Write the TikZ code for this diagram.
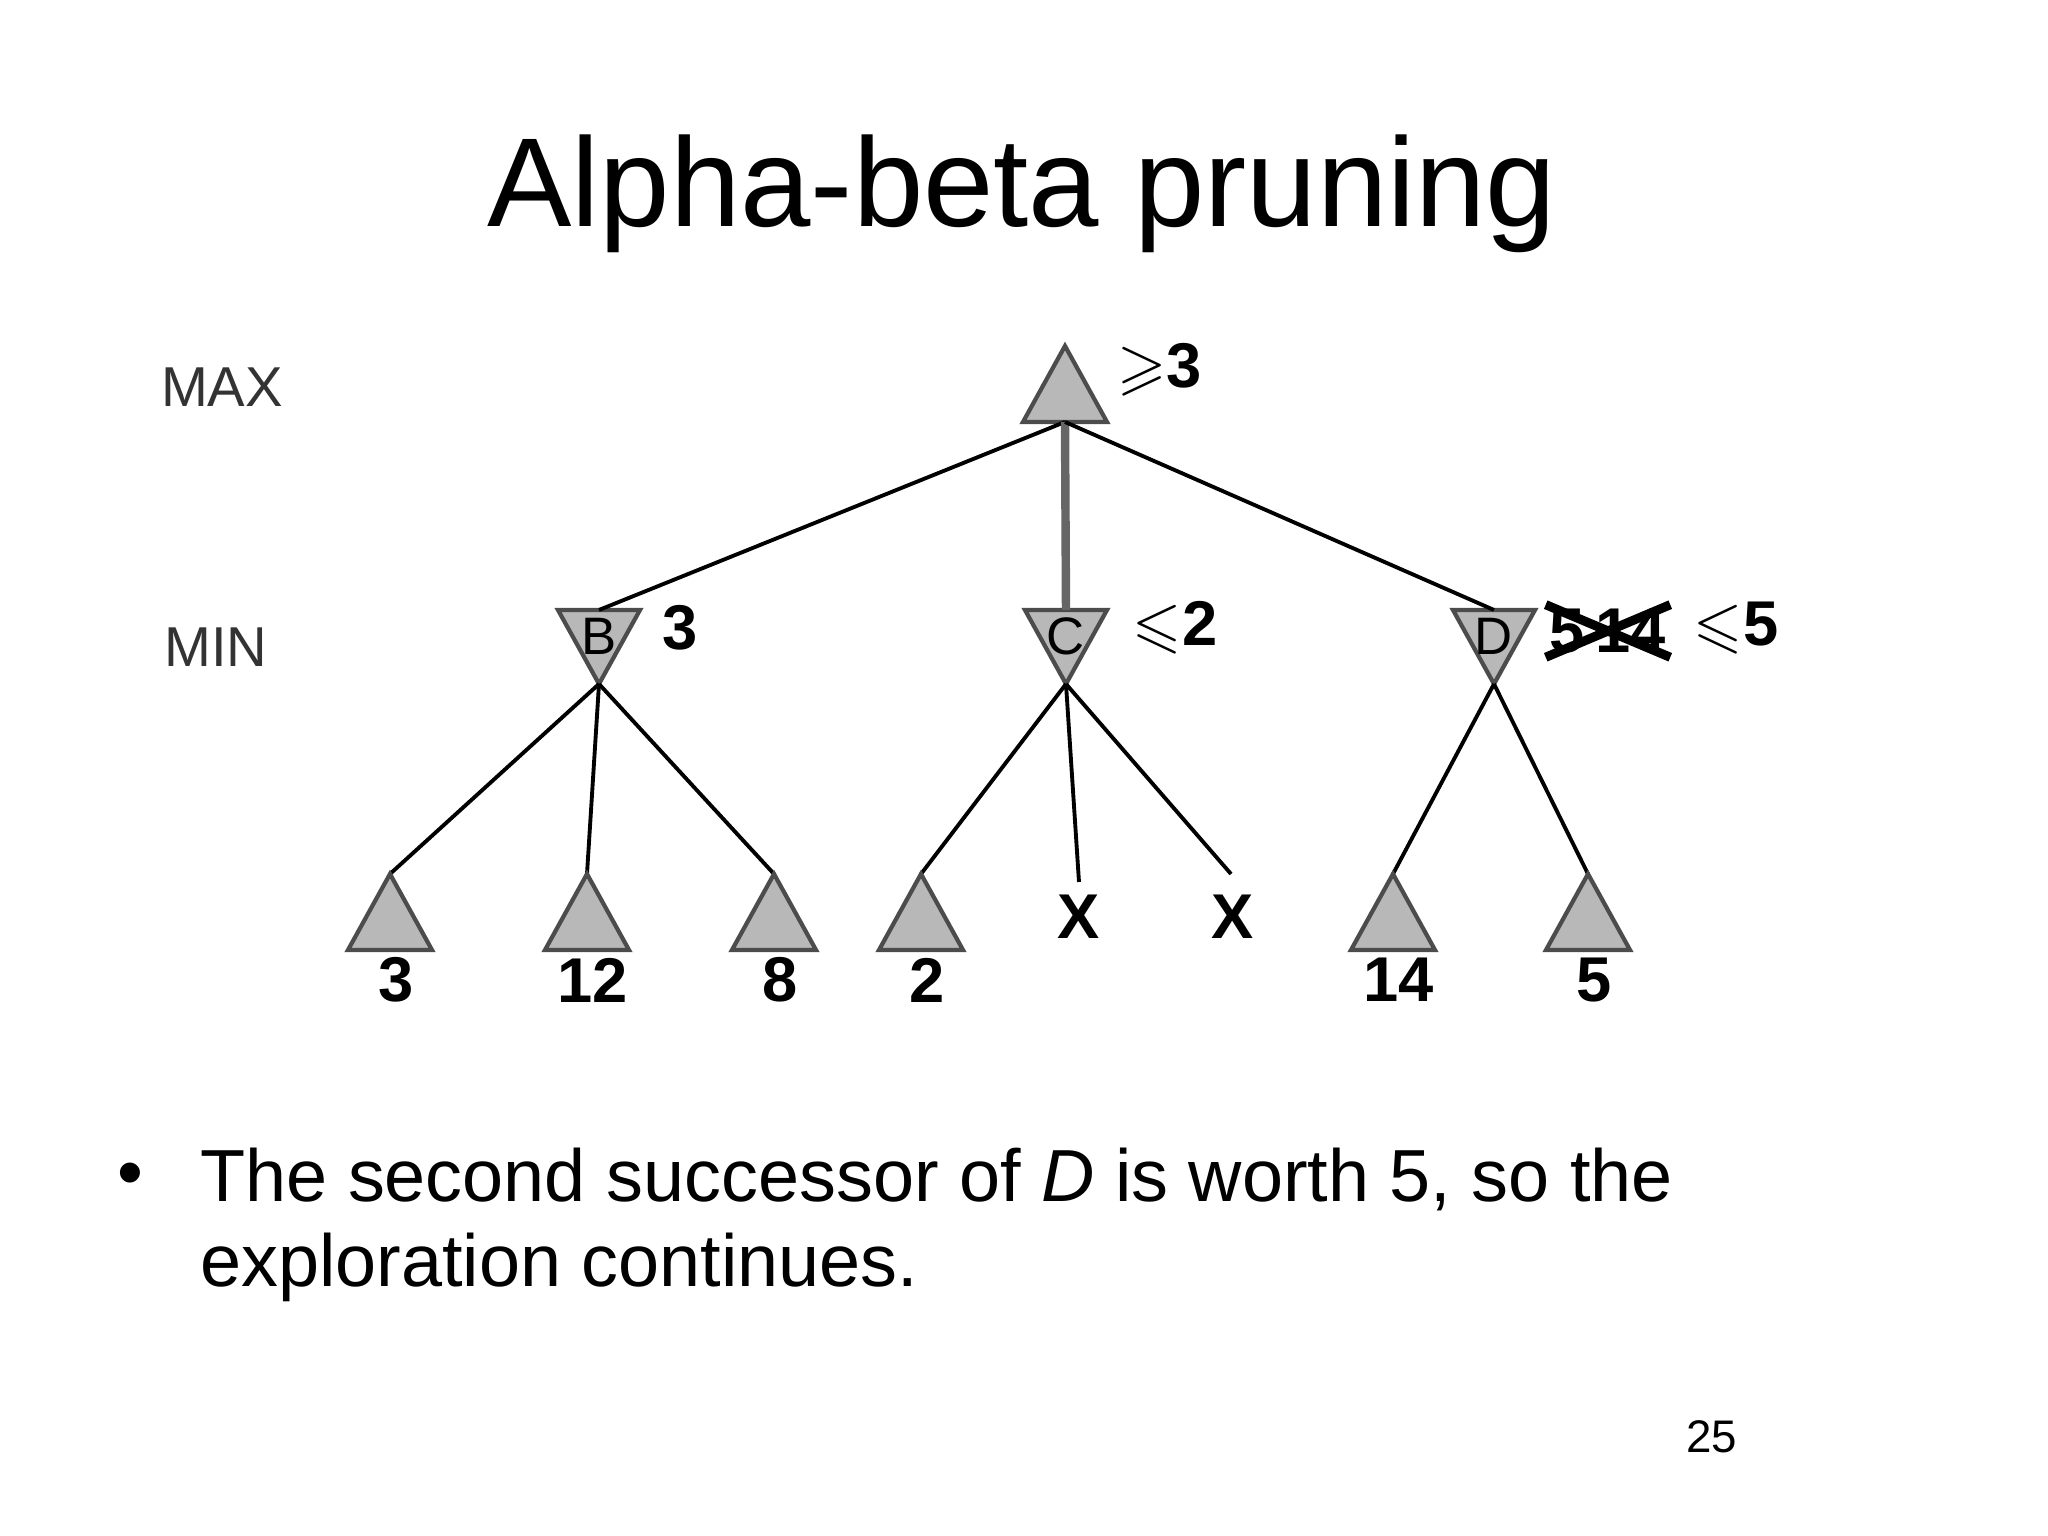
\documentclass[tikz,border=0pt]{standalone}
\usepackage{amssymb}
\usepackage{fontspec}
\setmainfont{Liberation Sans}
\usetikzlibrary{positioning,calc}
\begin{document}
\begin{tikzpicture}[
  tri/.style={draw=black!70, fill=black!28, line width=1.2pt},
  edge/.style={line width=1.1pt},
  val/.style={font=\fontsize{18}{20}\selectfont\bfseries},
  lvl/.style={font=\fontsize{16}{18}\selectfont, text=black!80}]
\useasboundingbox (0,0) rectangle (20.48,15.36);

% Title
\node[font=\fontsize{36}{40}\selectfont] (title) at (10.22,13.42) {Alpha-beta pruning};

% Level labels
\node[lvl] (max) at (2.22,11.49) {MAX};
\node[lvl] (min) at (2.16,8.89) {MIN};

% Root (MAX)
\coordinate (A) at (10.65,11.14);
\filldraw[tri] (10.65,11.90) -- (10.23,11.14) -- (11.07,11.14) -- cycle;
\node[val, right] (Aval) at (11.05,11.66) {$\geqslant$3};

% MIN nodes
\foreach \n/\x in {B/5.99, C/10.66, D/14.94}{
  \coordinate (\n top) at (\x,9.26);
  \coordinate (\n) at (\x,8.52);
  \filldraw[tri] (\x-0.41,9.26) -- (\x+0.41,9.26) -- (\x,8.52) -- cycle;
  \node[font=\fontsize{15}{17}\selectfont] (\n lab) at (\x,9.0) {\n};
}
\draw[edge] (A) -- (Btop);
\draw[edge, black!60, line width=2.4pt] (A) -- (Ctop);
\draw[edge] (A) -- (Dtop);

\node[val] (Bval) at (6.80,9.08) {3};
\node[val] (Cval) at (11.75,9.08) {$\leqslant$2};
\node[val, inner sep=1pt] (Dold) at (16.08,9.05) {5\,14};
\draw[line width=2.6pt] (Dold.south west) -- (Dold.north east);
\draw[line width=2.6pt] (Dold.north west) -- (Dold.south east);
\node[val] (Dval) at (17.36,9.08) {$\leqslant$5};

% Leaves
\foreach \l/\x/\v/\p in {l1/3.90/3/B, l2/5.87/12/B, l3/7.74/8/B, l4/9.21/2/C, l5/13.93/14/D, l6/15.88/5/D}{
  \coordinate (\l) at (\x,6.62);
  \draw[edge] (\p) -- (\l);
  \filldraw[tri] (\x,6.62) -- (\x-0.42,5.86) -- (\x+0.42,5.86) -- cycle;
  \node[val] (\l val) at (\x+0.06,5.56) {\v};
}
% Pruned leaves
\coordinate (x1) at (10.79,6.54);
\coordinate (x2) at (12.31,6.62);
\draw[edge] (C) -- (x1);
\draw[edge] (C) -- (x2);
\node[val] (x1lab) at (10.79,6.19) {X};
\node[val] (x2lab) at (12.33,6.19) {X};

% Bullet text
\node[font=\fontsize{21}{23}\selectfont] (bul) at (1.30,3.56) {\textbullet};
\node[font=\fontsize{21}{23}\selectfont, anchor=west] (line1) at (1.88,3.56) {The second successor of \textit{D} is worth 5, so the};
\node[font=\fontsize{21}{23}\selectfont, anchor=west] (line2) at (1.88,2.69) {exploration continues.};

% Page number
\node[font=\fontsize{13}{15}\selectfont] (page) at (17.12,0.99) {25};
\end{tikzpicture}
\end{document}
